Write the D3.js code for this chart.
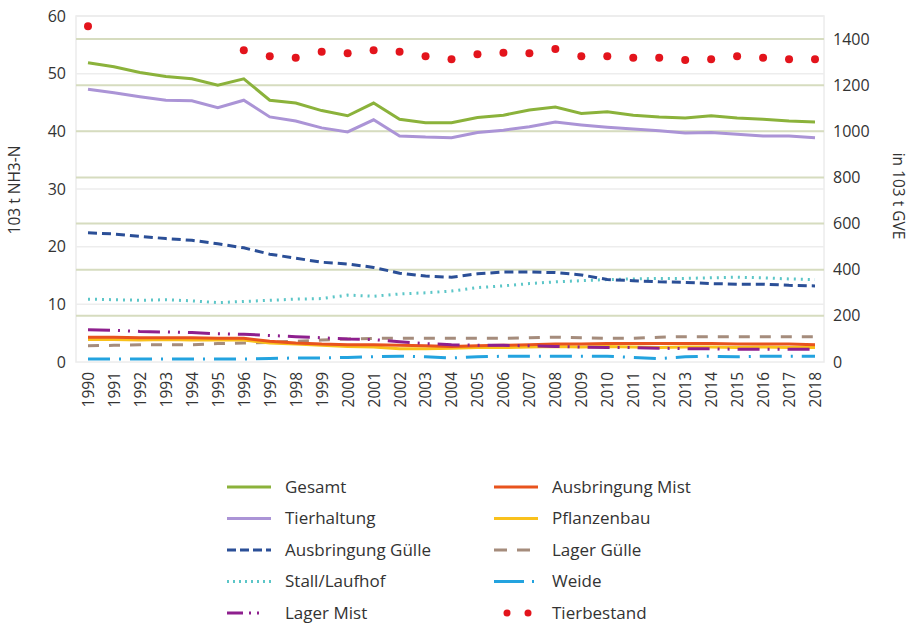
<!DOCTYPE html>
<html>
<head>
<meta charset="utf-8">
<script src="https://cdn.jsdelivr.net/npm/d3@7"></script>
<style>
  body { margin: 0; background: #fff; }
  svg text { font-family: "Open Sans", "Noto Sans", sans-serif; fill: #333; }
</style>
</head>
<body>
<svg id="svg"></svg>
<script>
// data
let years = d3.range(1990, 2019);

let gesamt = [51.9, 51.2, 50.2, 49.5, 49.1, 48.0, 49.1, 45.4, 44.9, 43.6, 42.7, 44.9, 42.1, 41.5, 41.5, 42.4, 42.8, 43.7, 44.2, 43.1, 43.4, 42.8, 42.5, 42.3, 42.7, 42.3, 42.1, 41.8, 41.6];
let tierhaltung = [47.3, 46.7, 46.0, 45.4, 45.3, 44.1, 45.4, 42.5, 41.8, 40.6, 39.9, 42.0, 39.2, 39.0, 38.9, 39.8, 40.2, 40.8, 41.6, 41.1, 40.7, 40.4, 40.1, 39.7, 39.8, 39.5, 39.2, 39.2, 38.9];
let ausbringungGuelle = [22.4, 22.2, 21.8, 21.4, 21.1, 20.5, 19.8, 18.7, 18.0, 17.3, 17.0, 16.4, 15.4, 14.9, 14.7, 15.3, 15.6, 15.6, 15.5, 15.1, 14.3, 14.1, 13.9, 13.8, 13.6, 13.5, 13.5, 13.3, 13.2];
let stall = [10.9, 10.8, 10.7, 10.8, 10.6, 10.3, 10.5, 10.7, 10.9, 11.0, 11.6, 11.4, 11.8, 12.0, 12.3, 12.9, 13.2, 13.6, 13.9, 14.1, 14.3, 14.4, 14.5, 14.5, 14.6, 14.7, 14.6, 14.4, 14.3];
let lagerMist = [5.6, 5.5, 5.3, 5.2, 5.1, 4.9, 4.8, 4.6, 4.4, 4.2, 4.0, 3.9, 3.5, 3.2, 3.0, 2.9, 2.9, 2.8, 2.7, 2.6, 2.5, 2.5, 2.4, 2.3, 2.3, 2.2, 2.2, 2.2, 2.2];
let ausbringungMist = [4.3, 4.3, 4.2, 4.2, 4.2, 4.1, 4.1, 3.6, 3.3, 3.1, 3.0, 3.0, 2.9, 2.8, 2.7, 2.8, 2.9, 3.0, 3.1, 3.1, 3.2, 3.2, 3.2, 3.2, 3.2, 3.1, 3.1, 3.1, 3.0];
let pflanzenbau = [3.9, 3.9, 3.8, 3.9, 3.8, 3.8, 3.8, 3.3, 3.1, 2.9, 2.7, 2.6, 2.3, 2.3, 2.4, 2.5, 2.5, 2.6, 2.7, 2.6, 2.7, 2.6, 2.5, 2.6, 2.6, 2.5, 2.6, 2.5, 2.5];
let lagerGuelle = [2.8, 2.9, 3.0, 3.0, 3.0, 3.2, 3.3, 3.4, 3.6, 3.8, 4.0, 4.1, 4.1, 4.1, 4.1, 4.1, 4.1, 4.2, 4.3, 4.2, 4.1, 4.1, 4.3, 4.4, 4.4, 4.4, 4.4, 4.4, 4.4];
let weide = [0.5, 0.5, 0.5, 0.5, 0.5, 0.5, 0.5, 0.6, 0.7, 0.7, 0.8, 0.9, 1.0, 0.9, 0.7, 0.9, 1.0, 1.0, 1.0, 1.0, 1.0, 0.8, 0.6, 0.9, 1.0, 0.9, 1.0, 1.0, 1.0];
// Tierbestand (right axis), null where no value
let tierbestand = [1456, null, null, null, null, null, 1352, 1326, 1319, 1345, 1338, 1352, 1345, 1326, 1313, 1334, 1341, 1338, 1357, 1326, 1326, 1319, 1319, 1309, 1313, 1326, 1319, 1313, 1313];

let leftTicks = [0, 10, 20, 30, 40, 50, 60];
let rightTicks = [0, 200, 400, 600, 800, 1000, 1200, 1400];

// series styles
let series = [
  { name: "Lager Gülle", values: lagerGuelle, color: "#a58c7c", dash: "11,10" },
  { name: "Weide", values: weide, color: "#23a3df", dash: "22,9,2,9" },
  { name: "Pflanzenbau", values: pflanzenbau, color: "#f9c11c", dash: null },
  { name: "Ausbringung Mist", values: ausbringungMist, color: "#e8531d", dash: null },
  { name: "Lager Mist", values: lagerMist, color: "#8e1f8e", dash: "22,8,2,8,2,8" },
  { name: "Stall/Laufhof", values: stall, color: "#5cc6c8", dash: "2,5" },
  { name: "Ausbringung Gülle", values: ausbringungGuelle, color: "#2b4f97", dash: "9,5" },
  { name: "Tierhaltung", values: tierhaltung, color: "#ab94d6", dash: null },
  { name: "Gesamt", values: gesamt, color: "#8bb23b", dash: null }
];

let width = 922;
let height = 627;
let svg = d3.select("#svg").attr("width", width).attr("height", height);

let plotLeft = 76, plotRight = 824, plotTop = 16, plotBottom = 362;

let xScale = d3.scaleLinear().domain([1990, 2018]).range([88, 815]);
let yLeft = d3.scaleLinear().domain([0, 60]).range([plotBottom, plotTop]);
let yRight = d3.scaleLinear().domain([0, 1500]).range([plotBottom, plotTop]);

// plot frame
svg.append("rect")
  .attr("x", plotLeft).attr("y", plotTop)
  .attr("width", plotRight - plotLeft).attr("height", plotBottom - plotTop)
  .attr("fill", "none").attr("stroke", "#ececec").attr("stroke-width", 1.5);

// faint left grid
svg.append("g").selectAll("line")
  .data(leftTicks.slice(1))
  .enter().append("line")
  .attr("x1", plotLeft).attr("x2", plotRight)
  .attr("y1", d => yLeft(d)).attr("y2", d => yLeft(d))
  .attr("stroke", "#ededed").attr("stroke-width", 1.5);

// green right grid
svg.append("g").selectAll("line")
  .data(rightTicks.slice(1))
  .enter().append("line")
  .attr("x1", plotLeft).attr("x2", plotRight)
  .attr("y1", d => yRight(d)).attr("y2", d => yRight(d))
  .attr("stroke", "#d6dcbf").attr("stroke-width", 2);

// axes
let leftAxis = d3.axisLeft(yLeft).tickValues(leftTicks).tickSize(0).tickPadding(10);
let gl = svg.append("g").attr("transform", "translate(" + plotLeft + ",0)").call(leftAxis);
gl.select(".domain").remove();
gl.selectAll("text").style("font-size", "16px").attr("fill", "#333");

let rightAxis = d3.axisRight(yRight).tickValues(rightTicks).tickFormat(d3.format("d")).tickSize(0).tickPadding(9);
let gr = svg.append("g").attr("transform", "translate(" + plotRight + ",0)").call(rightAxis);
gr.select(".domain").remove();
gr.selectAll("text").style("font-size", "16px").attr("fill", "#333");

let xAxis = d3.axisBottom(xScale).tickValues(years).tickFormat(d3.format("d")).tickSize(0);
let gx = svg.append("g").attr("transform", "translate(0," + plotBottom + ")").call(xAxis);
gx.select(".domain").remove();
gx.selectAll("text")
  .style("font-size", "15.5px").attr("fill", "#333")
  .attr("transform", "rotate(-90)")
  .attr("text-anchor", "end")
  .attr("x", -10).attr("y", 0).attr("dy", "0.35em");

// axis titles
svg.append("text")
  .attr("transform", "translate(20,190) rotate(-90)")
  .attr("text-anchor", "middle")
  .style("font-size", "15.5px")
  .text("103 t NH3-N");

svg.append("text")
  .attr("transform", "translate(893,196) rotate(90)")
  .attr("text-anchor", "middle")
  .style("font-size", "15.5px")
  .text("in 103 t GVE");

// lines
let line = d3.line()
  .x((d, i) => xScale(years[i]))
  .y(d => yLeft(d));

svg.append("g").selectAll("path")
  .data(series)
  .enter().append("path")
  .attr("d", d => line(d.values))
  .attr("fill", "none")
  .attr("stroke", d => d.color)
  .attr("stroke-width", 3)
  .attr("stroke-dasharray", d => d.dash);

// Tierbestand dots
svg.append("g").selectAll("circle")
  .data(tierbestand.map((v, i) => ({ year: years[i], v: v })).filter(d => d.v !== null))
  .enter().append("circle")
  .attr("cx", d => xScale(d.year))
  .attr("cy", d => yRight(d.v))
  .attr("r", 4)
  .attr("fill", "#e3141c");

// legend
let legendItems = [
  { name: "Gesamt", color: "#8bb23b", dash: null, col: 0, row: 0 },
  { name: "Tierhaltung", color: "#ab94d6", dash: null, col: 0, row: 1 },
  { name: "Ausbringung Gülle", color: "#2b4f97", dash: "9,4", col: 0, row: 2 },
  { name: "Stall/Laufhof", color: "#5cc6c8", dash: "2,4", col: 0, row: 3 },
  { name: "Lager Mist", color: "#8e1f8e", dash: "16,6,2,6,2,30", col: 0, row: 4 },
  { name: "Ausbringung Mist", color: "#e8531d", dash: null, col: 1, row: 0 },
  { name: "Pflanzenbau", color: "#f9c11c", dash: null, col: 1, row: 1 },
  { name: "Lager Gülle", color: "#a58c7c", dash: "13,10", col: 1, row: 2 },
  { name: "Weide", color: "#23a3df", dash: "30,8,2,30", col: 1, row: 3 },
  { name: "Tierbestand", color: "#e3141c", dots: true, col: 1, row: 4 }
];

let legend = svg.append("g");
let colX = [227, 494];
let rowY = d => 487 + d * 31.5;

legendItems.forEach(item => {
  let g = legend.append("g")
    .attr("transform", "translate(" + colX[item.col] + "," + rowY(item.row) + ")");
  if (item.dots) {
    g.append("circle").attr("cx", 13).attr("cy", 0).attr("r", 3.5).attr("fill", item.color);
    g.append("circle").attr("cx", 34).attr("cy", 0).attr("r", 3.5).attr("fill", item.color);
  } else {
    g.append("line")
      .attr("x1", 0).attr("x2", 44).attr("y1", 0).attr("y2", 0)
      .attr("stroke", item.color).attr("stroke-width", 3)
      .attr("stroke-dasharray", item.dash);
  }
  g.append("text")
    .attr("x", 58).attr("y", 0).attr("dy", "0.35em")
    .style("font-size", "17px")
    .text(item.name);
});
</script>
</body>
</html>
